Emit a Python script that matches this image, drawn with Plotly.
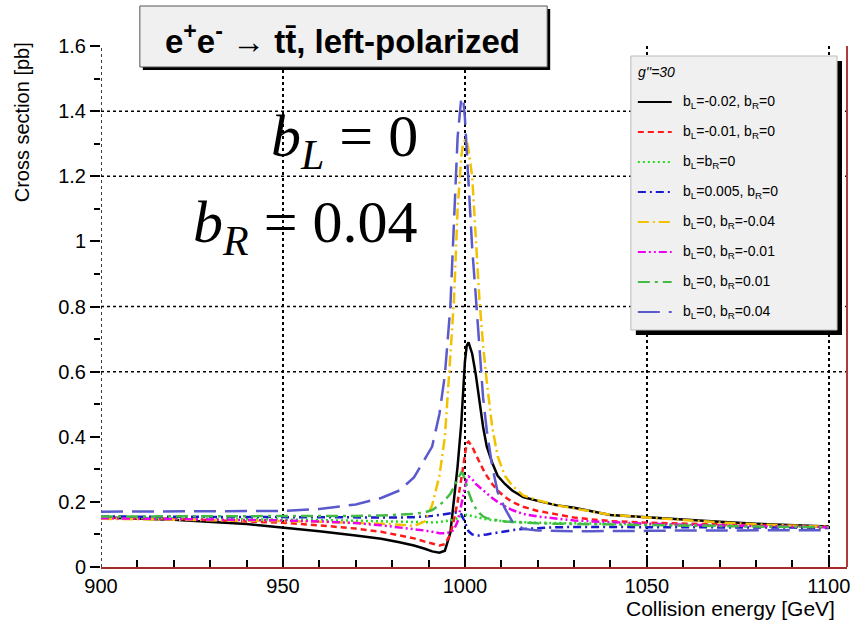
import plotly.graph_objects as go

# Collision energy grid [GeV]
energy = [900, 920, 940, 950, 960, 970, 977, 982, 986, 989, 991, 993, 994.5, 996, 997, 998,
          999, 999.5, 1000, 1000.5, 1001, 1002, 1003, 1004, 1005, 1006, 1007.5, 1009, 1011,
          1013, 1016, 1020, 1025, 1030, 1035, 1040, 1050, 1060, 1070, 1080, 1090, 1100]

# Cross sections [pb]
xs_bl_m002 = [0.152, 0.145, 0.132, 0.122, 0.110, 0.097, 0.087, 0.076, 0.066, 0.056, 0.048, 0.044,
              0.050, 0.105, 0.21, 0.31, 0.44, 0.54, 0.63, 0.68, 0.69, 0.655, 0.59, 0.51, 0.43,
              0.37, 0.32, 0.28, 0.255, 0.235, 0.215, 0.203, 0.19, 0.182, 0.17, 0.16, 0.153,
              0.145, 0.139, 0.133, 0.128, 0.124]
xs_bl_m001 = [0.152, 0.148, 0.140, 0.136, 0.128, 0.118, 0.108, 0.098, 0.088, 0.078, 0.071, 0.066,
              0.070, 0.100, 0.145, 0.20, 0.27, 0.31, 0.35, 0.38, 0.385, 0.37, 0.345, 0.32, 0.30,
              0.28, 0.255, 0.235, 0.215, 0.20, 0.185, 0.172, 0.162, 0.152, 0.146, 0.141, 0.136,
              0.133, 0.130, 0.127, 0.125, 0.123]
xs_sm = [0.152, 0.150, 0.147, 0.146, 0.144, 0.142, 0.140, 0.139, 0.138, 0.137, 0.137, 0.138,
         0.140, 0.143, 0.146, 0.150, 0.155, 0.158, 0.160, 0.160, 0.159, 0.156, 0.153, 0.150,
         0.148, 0.146, 0.144, 0.142, 0.140, 0.139, 0.137, 0.136, 0.135, 0.134, 0.133, 0.132,
         0.130, 0.128, 0.126, 0.125, 0.124, 0.123]
xs_bl_p0005 = [0.155, 0.154, 0.153, 0.152, 0.151, 0.151, 0.151, 0.152, 0.153, 0.155, 0.157, 0.160,
               0.163, 0.166, 0.168, 0.168, 0.162, 0.152, 0.138, 0.122, 0.110, 0.100, 0.097,
               0.097, 0.098, 0.100, 0.103, 0.106, 0.110, 0.113, 0.117, 0.120, 0.122, 0.123,
               0.123, 0.123, 0.123, 0.122, 0.122, 0.121, 0.121, 0.120]
xs_br_m004 = [0.148, 0.146, 0.143, 0.141, 0.139, 0.136, 0.133, 0.130, 0.126, 0.140, 0.19, 0.28,
              0.40, 0.65, 0.82, 1.10, 1.26, 1.30, 1.31, 1.31, 1.28, 1.20, 1.02, 0.82, 0.68,
              0.57, 0.43, 0.34, 0.28, 0.25, 0.22, 0.205, 0.19, 0.18, 0.168, 0.16, 0.152, 0.144,
              0.137, 0.131, 0.127, 0.123]
xs_br_m001 = [0.150, 0.148, 0.145, 0.143, 0.140, 0.135, 0.128, 0.122, 0.116, 0.112, 0.108, 0.104,
              0.104, 0.106, 0.115, 0.140, 0.19, 0.22, 0.25, 0.27, 0.278, 0.27, 0.255, 0.245,
              0.235, 0.225, 0.212, 0.200, 0.186, 0.175, 0.163, 0.155, 0.148, 0.143, 0.140,
              0.137, 0.133, 0.130, 0.128, 0.126, 0.124, 0.122]
xs_br_p001 = [0.155, 0.155, 0.155, 0.155, 0.156, 0.157, 0.158, 0.160, 0.163, 0.168, 0.175, 0.19,
              0.205, 0.225, 0.245, 0.27, 0.29, 0.285, 0.27, 0.25, 0.23, 0.20, 0.18, 0.165,
              0.155, 0.150, 0.146, 0.143, 0.140, 0.138, 0.136, 0.134, 0.133, 0.132, 0.131,
              0.130, 0.128, 0.126, 0.125, 0.124, 0.123, 0.122]
xs_br_p004 = [0.170, 0.170, 0.171, 0.172, 0.178, 0.192, 0.212, 0.235, 0.275, 0.33, 0.37, 0.47,
              0.59, 0.80, 1.05, 1.32, 1.44, 1.44, 1.38, 1.28, 1.17, 0.98, 0.83, 0.68, 0.52,
              0.42, 0.31, 0.23, 0.18, 0.14, 0.117, 0.112, 0.110, 0.110, 0.110, 0.111, 0.111,
              0.112, 0.112, 0.113, 0.113, 0.113]

series = [xs_bl_m002, xs_bl_m001, xs_sm, xs_bl_p0005, xs_br_m004, xs_br_m001, xs_br_p001, xs_br_p004]
labels = ["b<sub>L</sub>=-0.02, b<sub>R</sub>=0",
          "b<sub>L</sub>=-0.01, b<sub>R</sub>=0",
          "b<sub>L</sub>=b<sub>R</sub>=0",
          "b<sub>L</sub>=0.005, b<sub>R</sub>=0",
          "b<sub>L</sub>=0, b<sub>R</sub>=-0.04",
          "b<sub>L</sub>=0, b<sub>R</sub>=-0.01",
          "b<sub>L</sub>=0, b<sub>R</sub>=0.01",
          "b<sub>L</sub>=0, b<sub>R</sub>=0.04"]
colors = ["#000000", "#ff1a1a", "#22dd22", "#1a1ad0", "#f2c200", "#ee00ee", "#44bb44", "#5a5acc"]
dashes = ["solid", "6px,4px", "2px,3px", "8px,4px,2px,4px", "11px,4px,2px,4px",
          "8px,3px,2px,3px,2px,3px", "12px,5px,3px,5px", "22px,9px"]

x_ticks = [900, 950, 1000, 1050, 1100]
y_grid = [0.6, 0.8, 1.2, 1.4]

# page geometry (pixels)
W, H = 859, 622
ML, MR, MT, MB = 101, 9, 46, 55
PW, PH = W - ML - MR, H - MT - MB


def px(x):
    return (x - ML) / PW


def py(y):
    return (H - MB - y) / PH


fig = go.Figure()
for ys, name, c, d in zip(series, labels, colors, dashes):
    fig.add_trace(go.Scatter(x=energy, y=ys, mode="lines", name=name, showlegend=False,
                             line=dict(color=c, dash=d, width=2.5)))

shapes = []
# horizontal dotted grid
for g in y_grid:
    shapes.append(dict(type="line", xref="paper", yref="y", x0=0, x1=1, y0=g, y1=g,
                       line=dict(color="black", width=1.5, dash="dot"), layer="below"))
# dotted left frame edge
shapes.append(dict(type="line", xref="x", yref="paper", x0=x_ticks[0], x1=x_ticks[0], y0=0, y1=1,
                   line=dict(color="black", width=1.5, dash="dot"), layer="below"))
# right frame edge
shapes.append(dict(type="line", xref="paper", yref="paper", x0=1, x1=1, y0=0, y1=1,
                   line=dict(color="#b03a3a", width=2)))

# title pave
shapes.append(dict(type="rect", xref="paper", yref="paper", x0=px(143), x1=px(552),
                   y0=py(9), y1=py(70), fillcolor="black", line=dict(width=0)))
shapes.append(dict(type="rect", xref="paper", yref="paper", x0=px(140), x1=px(549),
                   y0=py(6), y1=py(67), fillcolor="#f0f0f0", line=dict(color="#555", width=1)))

# legend pave
shapes.append(dict(type="rect", xref="paper", yref="paper", x0=px(638), x1=px(845),
                   y0=py(61), y1=py(335), fillcolor="black", line=dict(width=0)))
shapes.append(dict(type="rect", xref="paper", yref="paper", x0=px(633), x1=px(840),
                   y0=py(56), y1=py(330), fillcolor="#f0f0f0", line=dict(color="#bbb", width=1)))

annotations = []
leg_y0, leg_dy = 102, 30
for i, (name, c, d) in enumerate(zip(labels, colors, dashes)):
    yy = leg_y0 + i * leg_dy
    shapes.append(dict(type="line", xref="paper", yref="paper", x0=px(640), x1=px(674),
                       y0=py(yy), y1=py(yy), line=dict(color=c, dash=d, width=2.2)))
    annotations.append(dict(xref="paper", yref="paper", x=px(683), y=py(yy), text=name,
                            showarrow=False, xanchor="left", yanchor="middle",
                            font=dict(family="Liberation Sans", size=14, color="black")))
annotations.append(dict(xref="paper", yref="paper", x=px(638), y=py(72), text="<i>g''=30</i>",
                        showarrow=False, xanchor="left", yanchor="middle",
                        font=dict(family="Liberation Sans", size=14, color="black")))

annotations.append(dict(xref="paper", yref="paper", x=px(343), y=py(39),
                        text="<b>e<sup>+</sup>e<sup>-</sup> \u2192 tt\u0304, left-polarized</b>",
                        showarrow=False, xanchor="center", yanchor="middle",
                        font=dict(family="Liberation Sans", size=33, color="black")))

annotations.append(dict(xref="paper", yref="paper", x=px(22), y=py(122),
                        text="Cross section [pb]", textangle=-90, showarrow=False,
                        xanchor="center", yanchor="middle",
                        font=dict(family="Liberation Sans", size=20, color="black")))
annotations.append(dict(xref="paper", yref="paper", x=px(840), y=py(608),
                        text="Collision energy [GeV]", showarrow=False,
                        xanchor="right", yanchor="middle",
                        font=dict(family="Liberation Sans", size=21, color="black")))

annotations.append(dict(xref="paper", yref="paper", x=px(421), y=py(140),
                        text="<i>b</i><sub><i>L</i></sub> = 0", showarrow=False,
                        xanchor="right", yanchor="middle",
                        font=dict(family="Liberation Serif", size=60, color="black")))
annotations.append(dict(xref="paper", yref="paper", x=px(421), y=py(226),
                        text="<i>b</i><sub><i>R</i></sub> = 0.04", showarrow=False,
                        xanchor="right", yanchor="middle",
                        font=dict(family="Liberation Serif", size=60, color="black")))

fig.update_layout(
    width=W, height=H,
    margin=dict(l=ML, r=MR, t=MT, b=MB),
    paper_bgcolor="white", plot_bgcolor="white",
    shapes=shapes, annotations=annotations,
    xaxis=dict(range=[900, 1105], tickvals=x_ticks, ticks="inside", ticklen=12, tickwidth=1.5,
               tickcolor="black", showgrid=True, gridcolor="black", griddash="dot",
               gridwidth=1.5, showline=True, linecolor="#a52a2a", linewidth=2,
               zeroline=False, tickfont=dict(family="Liberation Sans", size=20, color="black"),
               minor=dict(tick0=900, dtick=10, ticks="inside", ticklen=7, tickcolor="black",
                          showgrid=False)),
    yaxis=dict(range=[0, 1.6], dtick=0.2, tick0=0, ticks="outside", ticklen=10, tickwidth=1.5,
               tickcolor="black", showgrid=False, showline=False, zeroline=False,
               tickfont=dict(family="Liberation Sans", size=20, color="black"),
               minor=dict(dtick=0.1, ticks="outside", ticklen=6, tickcolor="black",
                          showgrid=False)),
)

fig.write_html("out.html")
